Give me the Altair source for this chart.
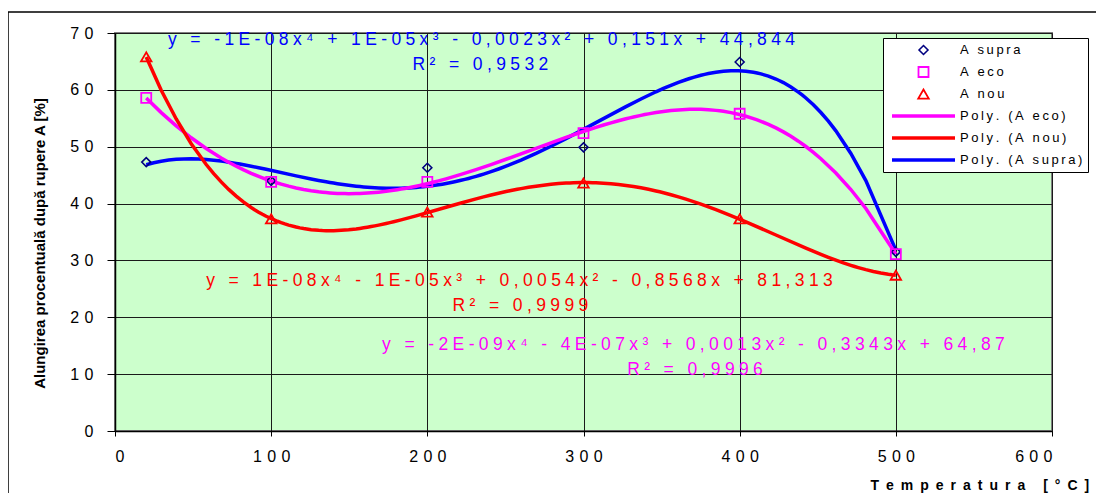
import altair as alt
import pandas as pd

# ---------------- data ----------------
temps = [20, 100, 200, 300, 400, 500]
a_supra = [47.3, 44.0, 46.3, 49.9, 64.9, 31.5]
a_eco = [58.6, 43.8, 43.8, 52.4, 55.8, 31.1]
a_nou = [65.8, 37.3, 38.5, 43.6, 37.3, 27.4]
series_names = ["A supra", "A eco", "A nou"]

legend_items = ["A supra", "A eco", "A nou", "Poly. (A eco)", "Poly. (A nou)", "Poly. (A supra)"]
legend_colors = ["#000080", "#FF00FF", "#FF0000", "#FF00FF", "#FF0000", "#0000FF"]
legend_shapes = ["diamond", "square", "triangle-up", "stroke", "stroke", "stroke"]
legend_sizes = [80, 100, 110, 3969, 3969, 3969]
legend_widths = [1.6, 1.8, 1.8, 3.5, 3.5, 3.5]

eq_texts = [
    "y = -1E-08x⁴ + 1E-05x³ - 0,0023x² + 0,151x + 44,844",
    "R² = 0,9532",
    "y = 1E-08x⁴ - 1E-05x³ + 0,0054x² - 0,8568x + 81,313",
    "R² = 0,9999",
    "y = -2E-09x⁴ - 4E-07x³ + 0,0013x² - 0,3343x + 64,87",
    "R² = 0,9996",
]
eq_x = [234.7, 234.0, 259.0, 259.6, 370.4, 371.4]
eq_y = [68.8, 64.4, 26.4, 21.9, 15.1, 10.7]
eq_colors = ["#0000FF", "#0000FF", "#FF0000", "#FF0000", "#FF00FF", "#FF00FF"]

x_ticks = [0, 100, 200, 300, 400, 500, 600]
y_ticks = [0, 10, 20, 30, 40, 50, 60, 70]

FONT = "Liberation Sans"


def spaced(s, ch="\u2005"):
    return ch.join(list(s))


# ---------------- tables ----------------
rows = []
for name, vals in zip(series_names, [a_supra, a_eco, a_nou]):
    for t, v in zip(temps, vals):
        rows.append({"t": t, "v": v, "series": name, "leg": name})
points = pd.DataFrame(rows)

eq_df = pd.DataFrame({
    "t": eq_x, "v": eq_y,
    "txt": [spaced(s) for s in eq_texts],
    "c": eq_colors,
})

x_enc = alt.X("t:Q", scale=alt.Scale(domain=[0, 600], nice=False),
              axis=alt.Axis(values=x_ticks, grid=True, tickSize=5, labelPadding=12,
                            labelFontSize=16, labelFont=FONT,
                            labelExpr="join(split(datum.label, ''), '\u2004')",
                            title=spaced("Temperatura [°C]", "\u2002"),
                            titleFont=FONT, titleFontSize=14, titleFontWeight="bold",
                            titleX=755, titleY=54, titleAlign="left",
                            titleBaseline="middle", titleColor="black"))
y_enc = alt.Y("v:Q", scale=alt.Scale(domain=[0, 70], nice=False),
              axis=alt.Axis(values=y_ticks, grid=True, tickSize=8, labelPadding=14,
                            labelFontSize=16, labelFont=FONT,
                            labelExpr="join(split(datum.label, ''), '\u2004')",
                            title="Alungirea procentuală după rupere A [%]",
                            titleFont=FONT, titleFontSize=15, titleFontWeight="bold",
                            titleX=-76, titleY=210, titleAlign="center",
                            titleBaseline="middle", titleColor="black"))

leg = alt.Legend(title=None, orient="none", legendX=768, legendY=5,
                 fillColor="white", strokeColor="black", padding=5,
                 labelFont=FONT, labelFontSize=13, labelColor="black",
                 labelExpr="join(split(datum.label, ''), '\u2009') + '\u2003'",
                 clipHeight=14, rowPadding=8, labelOffset=3, symbolOffset=2)

color_scale = alt.Scale(domain=legend_items, range=legend_colors)
shape_scale = alt.Scale(domain=legend_items, range=legend_shapes)
size_scale = alt.Scale(type="ordinal", domain=legend_items, range=legend_sizes)
sw_scale = alt.Scale(type="ordinal", domain=legend_items, range=legend_widths)

border = alt.Chart(pd.DataFrame({"k": [0]})).mark_rect(
    fill=None, stroke="black", strokeWidth=1.5
).encode(x=alt.value(-107), x2=alt.value(1200), y=alt.value(-21), y2=alt.value(700))

lines = alt.Chart(points).transform_regression(
    "t", "v", method="poly", order=4, groupby=["series"], extent=[20, 500]
).transform_calculate(
    leg="'Poly. (' + datum.series + ')'"
).mark_line().encode(
    x=x_enc, y=y_enc,
    color=alt.Color("leg:N", scale=color_scale, legend=leg),
    strokeWidth=alt.StrokeWidth("leg:N", scale=sw_scale, legend=leg),
)

marks = alt.Chart(points).mark_point(filled=False, opacity=1).encode(
    x=x_enc, y=y_enc,
    color=alt.Color("leg:N", scale=color_scale, legend=leg),
    shape=alt.Shape("leg:N", scale=shape_scale, legend=leg),
    size=alt.Size("leg:N", scale=size_scale, legend=leg),
    strokeWidth=alt.StrokeWidth("leg:N", scale=sw_scale, legend=leg),
)

texts = []
for col in ["#0000FF", "#FF0000", "#FF00FF"]:
    texts.append(
        alt.Chart(eq_df).transform_filter(alt.datum.c == col).mark_text(
            color=col, font=FONT, fontSize=17.5, align="center", baseline="middle"
        ).encode(x="t:Q", y="v:Q", text="txt:N")
    )

chart = alt.layer(border, lines, marks, *texts).properties(
    width=937, height=398,
    autosize=alt.AutoSizeParams(type="none"),
    padding={"left": 107, "top": 25, "right": 44, "bottom": 62},
).configure_view(
    fill="#CCFFCC", stroke="#808080", strokeWidth=2
).configure_axis(
    domainColor="black", tickColor="black", gridColor="#1a1a1a", gridWidth=1,
    labelColor="black", domainWidth=1.5
)

chart.save("out.html", embed_options={"renderer": "svg", "actions": False})
